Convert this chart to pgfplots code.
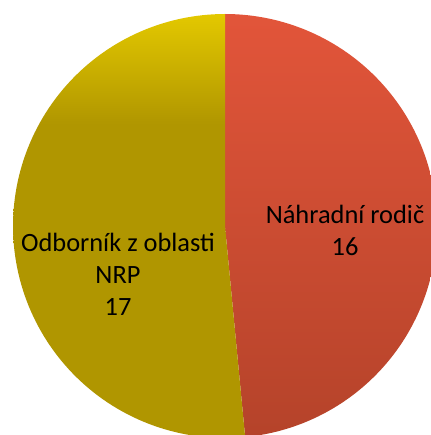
\documentclass[border=0pt]{standalone}
\usepackage{pgfplots}
\usepackage{pgfplotstable}
\pgfplotsset{compat=1.18}
\usepackage{fontspec}
\setmainfont{Carlito}
\definecolor{redt}{HTML}{E2553A}
\definecolor{redb}{HTML}{B5432A}
\definecolor{olivet}{HTML}{E3C800}
\definecolor{oliveb}{HTML}{B09600}
\pgfdeclareverticalshading{olivesh}{100bp}{color(0bp)=(oliveb); color(62bp)=(oliveb); color(75bp)=(olivet); color(100bp)=(olivet)}
\pgfdeclareverticalshading{redsh}{100bp}{color(0bp)=(redb); color(25bp)=(redb); color(75bp)=(redt); color(100bp)=(redt)}
\pgfplotstableread{
label value
Nahradni 16
Odbornik 17
}\piedata
\pgfplotstablegetelem{0}{value}\of\piedata \let\vA\pgfplotsretval
\pgfplotstablegetelem{1}{value}\of\piedata \let\vB\pgfplotsretval
\pgfmathsetmacro\angA{90-360*\vA/(\vA+\vB)}
\begin{document}
\begin{tikzpicture}
\begin{axis}[at={(0,0)}, anchor=south west, scale only axis, width=431bp, height=435bp,
  xmin=0, xmax=431, ymin=0, ymax=435, hide axis, clip=true]
\addplot[draw=none, shade, shading=redsh, samples=120, domain=\angA:90, variable=\t]
  ({225+212*cos(\t)}, {209+212*sin(\t)}) -- (axis cs:225,209) -- cycle;
\addplot[draw=none, shade, shading=olivesh, samples=120, domain=90:360+\angA, variable=\t]
  ({225+212*cos(\t)}, {209+212*sin(\t)}) -- (axis cs:225,209) -- cycle;
\node[align=center, font=\fontsize{26.5}{32}\selectfont] at (axis cs:345,205) {Náhradní rodič\\16};
\node[align=center, font=\fontsize{26.5}{32}\selectfont] at (axis cs:118,161) {Odborník z oblasti\\NRP\\17};
\end{axis}
\pgfresetboundingbox
\useasboundingbox (0,0) rectangle (431bp,435bp);
\end{tikzpicture}
\end{document}
